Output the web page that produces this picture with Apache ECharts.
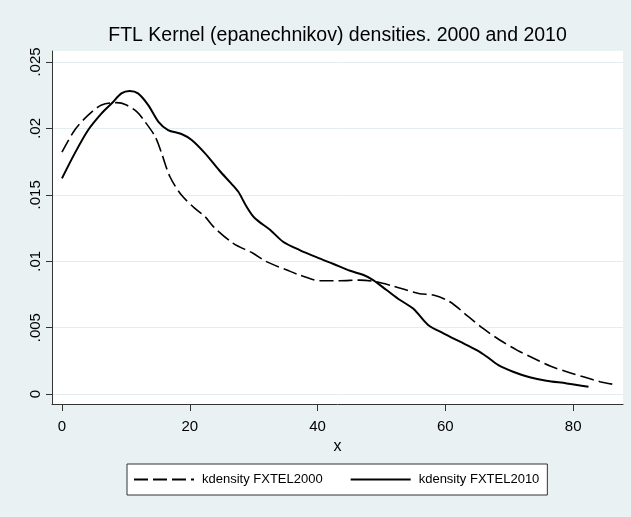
<!DOCTYPE html>
<html>
<head>
<meta charset="utf-8">
<script src="https://cdn.jsdelivr.net/npm/echarts@6/dist/echarts.min.js"></script>
<style>
html,body{margin:0;padding:0;background:#e9f1f3;}
#chart{width:631px;height:517px;}
</style>
</head>
<body>
<div id="chart"></div>
<script>
var titleText = 'FTL Kernel (epanechnikov) densities. 2000 and 2010';
var seriesNames = ['kdensity FXTEL2000', 'kdensity FXTEL2010'];
var xTicks = [0, 20, 40, 60, 80];
var yTicks = [0, 0.005, 0.01, 0.015, 0.02, 0.025];

var x2000 = [0, 2.0, 4.1, 6.2, 8.6, 10.1, 11.7, 13.0, 14.6, 15.6, 16.9, 18.7, 20.8, 22.4, 23.7, 26.8, 29.9, 32.0, 35.2, 37.2, 40.4, 43.5, 46.6, 49.2, 51.8, 53.9, 56.0, 58.1, 60.7, 63.3, 65.9, 68.5, 71.2, 73.8, 76.4, 79.0, 81.6, 84.2, 86.3];
var y2000 = [0.01822, 0.01988, 0.0210, 0.02176, 0.02194, 0.02176, 0.02126, 0.0205, 0.01937, 0.01812, 0.01636, 0.01498, 0.01398, 0.01335, 0.0126, 0.01135, 0.0106, 0.00997, 0.00934, 0.00896, 0.00853, 0.00853, 0.00858, 0.00846, 0.00813, 0.00783, 0.00755, 0.00745, 0.00695, 0.00595, 0.00494, 0.00407, 0.00331, 0.00269, 0.00211, 0.00168, 0.0013, 0.00093, 0.00073];

var x2010 = [0, 2.0, 4.1, 6.2, 7.8, 9.3, 10.6, 11.9, 13.5, 15.1, 16.6, 18.7, 20.3, 22.4, 24.6, 26.4, 27.6, 28.9, 30.2, 32.6, 34.6, 37.2, 39.9, 42.5, 45.1, 47.2, 48.7, 50.8, 52.9, 55.0, 57.3, 59.7, 62.3, 64.9, 66.5, 68.3, 70.6, 73.2, 75.8, 79.0, 82.4];
var y2010 = [0.01624, 0.01812, 0.01988, 0.02113, 0.02189, 0.02264, 0.02282, 0.02264, 0.02176, 0.0205, 0.01988, 0.01958, 0.01913, 0.01812, 0.01685, 0.0159, 0.01523, 0.0141, 0.01323, 0.01235, 0.01147, 0.01084, 0.01029, 0.00979, 0.00928, 0.00896, 0.00858, 0.00783, 0.00708, 0.00642, 0.0052, 0.00457, 0.00394, 0.00331, 0.00281, 0.00218, 0.00168, 0.00126, 0.001, 0.0008, 0.00055];

function pairs(xs, ys) { return xs.map(function (x, i) { return [x, ys[i]]; }); }

var FONT = '"Liberation Sans", Arial, sans-serif';
var chart = echarts.init(document.getElementById('chart'), null, {renderer: 'canvas'});
chart.setOption({
  backgroundColor: '#e9f1f3',
  animation: false,
  title: {
    text: titleText, left: 337.5, top: 26, padding: 0, textAlign: 'center',
    textStyle: {fontFamily: FONT, fontSize: 19.5, fontWeight: 'normal', color: '#000'}
  },
  grid: {left: 52, top: 51, width: 571, height: 353, show: true, backgroundColor: '#ffffff', borderWidth: 0},
  legend: {
    left: 127, top: 464, padding: [9, 8, 9, 6], itemWidth: 60, itemHeight: 14, itemGap: 27,
    backgroundColor: '#ffffff', borderColor: '#333', borderWidth: 1, borderRadius: 0,
    itemStyle: {opacity: 0, borderWidth: 0},
    textStyle: {fontFamily: FONT, fontSize: 13, color: '#000', padding: [0, 0, 0, 3]},
    data: seriesNames
  },
  xAxis: {
    type: 'value', min: -1.56, max: 87.8,
    name: 'x', nameLocation: 'middle', nameGap: 35,
    nameTextStyle: {fontFamily: FONT, fontSize: 16, color: '#000'},
    axisLine: {show: true, onZero: false, lineStyle: {color: '#333', width: 1}},
    axisTick: {show: true, length: 7, customValues: xTicks, lineStyle: {color: '#333'}},
    axisLabel: {customValues: xTicks, margin: 15, fontFamily: FONT, fontSize: 15, color: '#000'},
    splitLine: {show: false}
  },
  yAxis: {
    type: 'value', min: -0.00075, max: 0.02583,
    axisLine: {show: true, onZero: false, lineStyle: {color: '#333', width: 1}},
    axisTick: {show: true, length: 6, customValues: yTicks, lineStyle: {color: '#333'}},
    axisLabel: {
      customValues: yTicks, rotate: 90, margin: 9, fontFamily: FONT, fontSize: 15, color: '#000',
      formatter: function (v) { return v === 0 ? '0' : String(+v.toFixed(4)).replace(/^0\./, '.'); }
    },
    splitLine: {show: true, lineStyle: {color: '#e3ecef', width: 1}}
  },
  series: [
    {
      name: seriesNames[0], type: 'line', smooth: 0.3, symbol: 'none',
      data: pairs(x2000, y2000),
      lineStyle: {color: '#000', width: 1.6, type: [14, 5]},
      itemStyle: {color: '#000'}
    },
    {
      name: seriesNames[1], type: 'line', smooth: 0.3, symbol: 'none',
      data: pairs(x2010, y2010),
      lineStyle: {color: '#000', width: 2},
      itemStyle: {color: '#000'}
    }
  ]
});
</script>
</body>
</html>
